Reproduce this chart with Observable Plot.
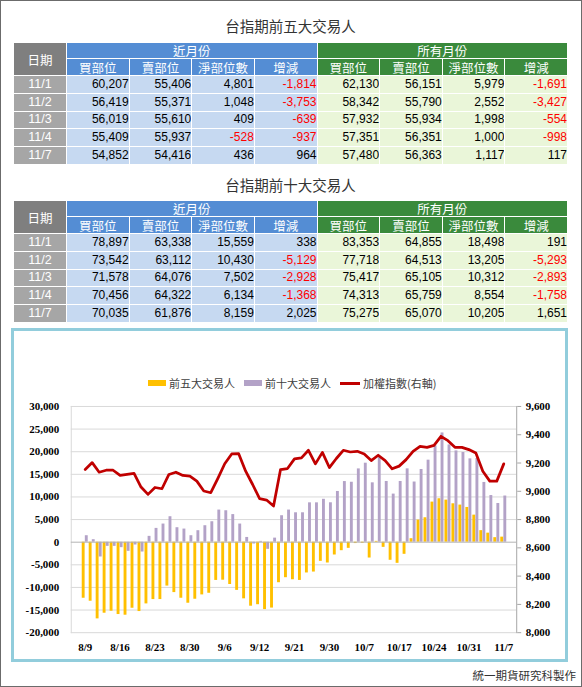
<!DOCTYPE html>
<html><head><meta charset="utf-8">
<script src="https://cdn.jsdelivr.net/npm/d3@7"></script>
<script src="https://cdn.jsdelivr.net/npm/@observablehq/plot@0.6"></script>
<style>
body{margin:0;background:#fff;}
#page{position:relative;width:582px;height:687px;box-sizing:border-box;border:1px solid #6b6b6b;background:#fff;overflow:hidden;font-family:"Noto Sans CJK TC","Noto Sans",sans-serif;}
.title{position:absolute;left:12px;width:555px;text-align:center;font-size:14.5px;color:#333;line-height:20px;height:20px;}
table.t{position:absolute;left:12px;width:555px;border-collapse:collapse;table-layout:fixed;border:1px solid #c9c9c9;}
table.t td{border:1px solid #fff;padding:0;overflow:hidden;white-space:nowrap;line-height:13px;}
td.hd{background:#7f7f7f;color:#fff;text-align:center;font-size:12.5px;}
td.hb{background:#548DD4;color:#fff;text-align:center;font-size:12.5px;}
td.hg{background:#3A8A3C;color:#fff;text-align:center;font-size:12.5px;}
td.dd{background:#a6a6a6;color:#fff;text-align:center;font-family:"Liberation Sans",Arial,sans-serif;font-size:12.5px;}
td.nb{background:#C6D9F1;text-align:right;padding-right:6px;font-family:"Liberation Sans",Arial,sans-serif;font-size:12px;color:#000;}
td.ng{background:#EAF6D9;text-align:right;padding-right:6px;font-family:"Liberation Sans",Arial,sans-serif;font-size:12px;color:#000;}
td.neg{color:#ff0000;}
#box{position:absolute;left:10px;top:327px;width:557px;height:334px;box-sizing:border-box;border:3px solid #92CDDC;background:#fff;}
#legend{position:absolute;left:147px;top:374px;height:16px;display:flex;align-items:center;font-size:11px;color:#404040;}
#legend .it{display:flex;align-items:center;margin-right:9px;}
#legend .sw{width:18px;height:6px;margin-right:3px;}
#legend .ln{width:20px;height:3px;margin-right:3px;}
#chart{position:absolute;left:0;top:395px;}
#foot{position:absolute;right:5px;top:666px;font-size:11.5px;color:#333;line-height:16px;}
</style></head>
<body>
<div id="page">
  <div class="title" style="top:15px">台指期前五大交易人</div>
  <table class="t" id="t1" style="top:41px"></table>
  <div class="title" style="top:174px">台指期前十大交易人</div>
  <table class="t" id="t2" style="top:199px"></table>
  <div id="box"></div>
  <div id="legend"></div>
  <div id="chart"></div>
  <div id="foot">統一期貨研究科製作</div>
</div>
<script>
// ---------- table data ----------
const tableDates = ["11/1","11/2","11/3","11/4","11/7"];
const colHeads = ["買部位","賣部位","淨部位數","增減"];
const groupNear = "近月份", groupAll = "所有月份", dateHead = "日期";

const t5NearBuy  = [60207,56419,56019,55409,54852];
const t5NearSell = [55406,55371,55610,55937,54416];
const t5NearNet  = [4801,1048,409,-528,436];
const t5NearChg  = [-1814,-3753,-639,-937,964];
const t5AllBuy   = [62130,58342,57932,57351,57480];
const t5AllSell  = [56151,55790,55934,56351,56363];
const t5AllNet   = [5979,2552,1998,1000,1117];
const t5AllChg   = [-1691,-3427,-554,-998,117];

const t10NearBuy  = [78897,73542,71578,70456,70035];
const t10NearSell = [63338,63112,64076,64322,61876];
const t10NearNet  = [15559,10430,7502,6134,8159];
const t10NearChg  = [338,-5129,-2928,-1368,2025];
const t10AllBuy   = [83353,77718,75417,74313,75275];
const t10AllSell  = [64855,64513,65105,65759,65070];
const t10AllNet   = [18498,13205,10312,8554,10205];
const t10AllChg   = [191,-5293,-2893,-1758,1651];

// ---------- chart data ----------
const dates = ["8/9","8/10","8/11","8/12","8/15","8/16","8/17","8/18","8/19","8/22","8/23","8/24","8/25","8/26","8/29","8/30","8/31",
"9/1","9/2","9/5","9/6","9/7","9/8","9/9","9/10","9/12","9/13","9/14","9/19","9/20","9/21","9/22","9/23","9/26","9/29","9/30",
"10/3","10/4","10/5","10/6","10/7","10/11","10/12","10/13","10/14","10/17","10/18","10/19","10/20","10/21","10/24","10/25","10/26","10/27","10/28","10/31",
"11/1","11/2","11/3","11/4","11/7"];
const tickLabels = ["8/9","8/16","8/23","8/30","9/6","9/12","9/21","9/30","10/7","10/17","10/24","10/31","11/7"];
const top5Net = [-12390,-13050,-16950,-15700,-15260,-15990,-16140,-14600,-15330,-13640,-12680,-12680,-9700,-11140,-12390,-13490,-12610,-11650,-11290,-8450,
-8400,-9350,-10650,-12520,-14150,-13820,-14900,-14560,-8960,-7850,-8300,-8450,-6800,-6600,-4230,-4600,-2830,-1880,-1360,-300,
-260,-3500,180,-1140,-4000,-4670,-2680,770,4890,5400,8860,9600,9300,8490,8200,7680,5979,2552,1998,1000,1117];
const top10Net = [1430,550,-3270,-920,-920,-1210,-2020,-620,-2170,1290,3050,4010,5630,3200,2900,1430,2540,3640,4520,7100,
6950,6100,4010,1050,-400,180,-1580,900,5850,7100,6500,6500,8700,8700,9480,8710,11210,13400,13250,16200,
17460,13120,18710,13420,10630,13420,16210,13300,16070,18130,21290,24150,21500,20180,19820,18420,18498,13205,10312,8554,10205];
const taiex = [9154,9203,9135,9149,9149,9112,9119,9126,9030,8978,9027,9018,9119,9135,9112,9107,9072,9002,8990,9090,
9195,9264,9266,9142,9048,8948,8938,8896,9154,9161,9229,9236,9290,9194,9275,9168,9232,9290,9278,9283,
9264,9217,9255,9217,9159,9178,9224,9283,9318,9311,9325,9389,9358,9311,9311,9295,9271,9142,9072,9072,9194];
const leftTicks = [-20000,-15000,-10000,-5000,0,5000,10000,15000,20000,25000,30000];
const rightTicks = [8000,8200,8400,8600,8800,9000,9200,9400,9600];
const seriesNames = ["前五大交易人","前十大交易人","加權指數(右軸)"];
const colors = ["#FFC000","#B3A2C7","#C00000"];

// ---------- tables ----------
const fmt = v => v.toLocaleString("en-US");
function buildTable(id, cols) {
  const t = document.getElementById(id);
  let h = `<colgroup><col style="width:53px">` + "<col>".repeat(8) + `</colgroup>`;
  h += `<tr style="height:16px"><td class="hd" rowspan="2">${dateHead}</td><td class="hb" colspan="4">${groupNear}</td><td class="hg" colspan="4">${groupAll}</td></tr>`;
  h += `<tr style="height:17px">` + colHeads.map(c=>`<td class="hb">${c}</td>`).join("") + colHeads.map(c=>`<td class="hg">${c}</td>`).join("") + `</tr>`;
  tableDates.forEach((d, r) => {
    h += `<tr style="height:17.8px"><td class="dd">${d}</td>`;
    cols.forEach((arr, c) => {
      const v = arr[r];
      h += `<td class="${c < 4 ? "nb" : "ng"}${v < 0 ? " neg" : ""}">${fmt(v)}</td>`;
    });
    h += `</tr>`;
  });
  t.innerHTML = h;
}
buildTable("t1", [t5NearBuy,t5NearSell,t5NearNet,t5NearChg,t5AllBuy,t5AllSell,t5AllNet,t5AllChg]);
buildTable("t2", [t10NearBuy,t10NearSell,t10NearNet,t10NearChg,t10AllBuy,t10AllSell,t10AllNet,t10AllChg]);

// ---------- legend ----------
document.getElementById("legend").innerHTML =
  `<div class="it"><div class="sw" style="background:${colors[0]}"></div>${seriesNames[0]}</div>` +
  `<div class="it"><div class="sw" style="background:${colors[1]}"></div>${seriesNames[1]}</div>` +
  `<div class="it"><div class="ln" style="background:${colors[2]}"></div>${seriesNames[2]}</div>`;

// ---------- chart ----------
const data = dates.map((d, i) => ({date: d, top5: top5Net[i], top10: top10Net[i], idx: taiex[i]}));
const L0 = -20000, L1 = 30000, R0 = 8000, R1 = 9600;
const toLeft = v => L0 + (v - R0) * (L1 - L0) / (R1 - R0);
const fromLeft = v => R0 + (v - L0) * (R1 - R0) / (L1 - L0);

const W = 582, H = 265, mL = 70, mR = 65, mT = 10, mB = 28, pad = 0.15;
const step = (W - mL - mR) / (dates.length - pad + 2 * pad);
const bw = step * (1 - pad);

const chart = Plot.plot({
  width: W, height: H,
  marginLeft: mL, marginRight: mR, marginTop: mT, marginBottom: mB,
  style: {fontFamily: "'Liberation Serif', 'Times New Roman', serif", fontSize: "11px", fontWeight: "bold", color: "#000", background: "transparent"},
  x: {type: "band", domain: dates, padding: pad},
  y: {domain: [L0, L1]},
  marks: [
    Plot.ruleY(leftTicks.filter(d => d !== 0), {stroke: "#d9d9d9", strokeWidth: 1}),
    Plot.frame({anchor: "left", stroke: "#d9d9d9"}),
    Plot.barY(data, {x: "date", y: "top5", fill: colors[0], insetRight: bw / 2}),
    Plot.barY(data, {x: "date", y: "top10", fill: colors[1], insetLeft: bw / 2}),
    Plot.ruleY([0], {stroke: "#b3b3b3", strokeWidth: 1}),
    Plot.line(data, {x: "date", y: d => toLeft(d.idx), stroke: colors[2], strokeWidth: 2.75, strokeLinejoin: "round", strokeLinecap: "round"}),
    Plot.frame({anchor: "right", stroke: "#a6a6a6"}),
    Plot.axisY({anchor: "left", ticks: leftTicks, tickSize: 0, tickPadding: 12, tickFormat: d => d.toLocaleString("en-US"), label: null}),
    Plot.axisY({anchor: "right", ticks: rightTicks.map(toLeft), tickSize: 4, tickPadding: 5, stroke: "#a6a6a6",
      tickFormat: d => Math.round(fromLeft(d)).toLocaleString("en-US"), label: null}),
    Plot.axisX({ticks: tickLabels, tickSize: 0, tickPadding: 11, label: null})
  ]
});
document.getElementById("chart").appendChild(chart);
</script>
</body></html>
